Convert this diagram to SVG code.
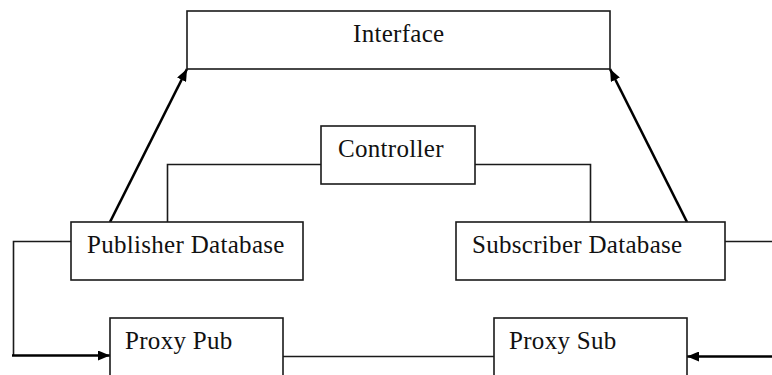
<svg xmlns="http://www.w3.org/2000/svg" width="772" height="375" viewBox="0 0 772 375">
  <defs>
    <style>
      .box { fill: #ffffff; stroke: #1a1a1a; stroke-width: 1.6; }
      .lbl { font-family: "Liberation Serif", "Times New Roman", serif; font-size: 25px; letter-spacing: 0.3px; fill: #111111; }
      .wire { fill: none; stroke: #1a1a1a; stroke-width: 1.6; }
      .bold { fill: none; stroke: #000000; stroke-width: 2.6; }
    </style>
    <marker id="head" viewBox="0 0 12 10" refX="12" refY="5" markerWidth="12" markerHeight="10" markerUnits="userSpaceOnUse" orient="auto">
      <path d="M0,0 L12,5 L0,10 Z" fill="#000000"/>
    </marker>
  </defs>

  <rect width="772" height="375" fill="#ffffff"/>

  <!-- connectors -->
  <g id="connectors">
    <!-- controller to both databases -->
    <polyline class="wire" points="321,164.5 167.5,164.5 167.5,222"/>
    <polyline class="wire" points="475,164.5 590.5,164.5 590.5,222"/>
    <!-- databases up to the interface -->
    <line class="bold" x1="110" y1="222" x2="187" y2="69" stroke-width="2.2" marker-end="url(#head)"/>
    <line class="bold" x1="687" y1="222" x2="610" y2="69" stroke-width="2.8" marker-end="url(#head)"/>
    <!-- publisher database loop down to proxy pub -->
    <polyline class="wire" points="71,241.5 13.5,241.5 13.5,355.5"/>
    <line class="bold" x1="12" y1="355.5" x2="110" y2="355.5" marker-end="url(#head)"/>
    <!-- proxy pub to proxy sub -->
    <line class="wire" x1="283" y1="356.5" x2="494" y2="356.5"/>
    <!-- subscriber database off to the right -->
    <line class="wire" x1="725" y1="241.5" x2="772" y2="241.5"/>
    <!-- incoming to proxy sub -->
    <line class="bold" x1="772" y1="356.5" x2="687" y2="356.5" marker-end="url(#head)"/>
  </g>

  <g id="interface">
    <rect class="box" x="187" y="11" width="423" height="58"/>
    <text class="lbl" x="353" y="42">Interface</text>
  </g>

  <g id="controller">
    <rect class="box" x="321" y="126" width="154" height="58"/>
    <text class="lbl" x="338" y="157">Controller</text>
  </g>

  <g id="publisher-database">
    <rect class="box" x="71" y="222" width="232" height="58"/>
    <text class="lbl" x="87" y="253">Publisher Database</text>
  </g>

  <g id="subscriber-database">
    <rect class="box" x="456" y="222" width="269" height="58"/>
    <text class="lbl" x="472" y="253">Subscriber Database</text>
  </g>

  <g id="proxy-pub">
    <rect class="box" x="110" y="318" width="173" height="70"/>
    <text class="lbl" x="125" y="349">Proxy Pub</text>
  </g>

  <g id="proxy-sub">
    <rect class="box" x="494" y="318" width="193" height="70"/>
    <text class="lbl" x="509" y="349">Proxy Sub</text>
  </g>
</svg>
